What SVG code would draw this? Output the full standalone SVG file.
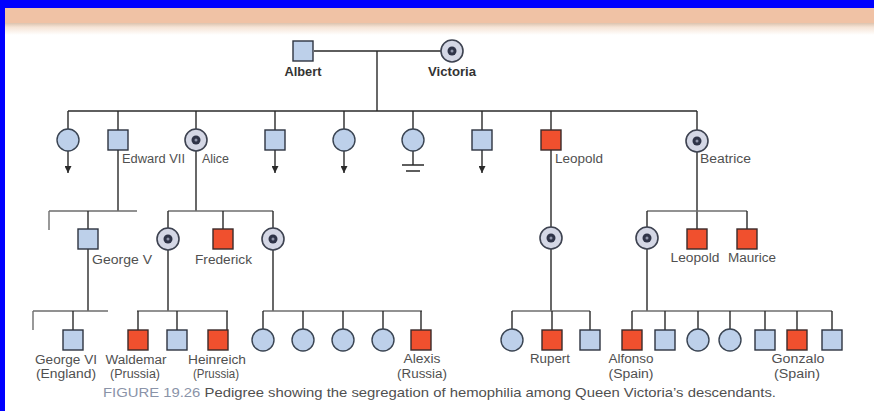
<svg xmlns="http://www.w3.org/2000/svg" xmlns:xlink="http://www.w3.org/1999/xlink" width="874" height="411" viewBox="0 0 874 411">
  <style>
    .ln { stroke:#2a2a2a; stroke-width:1.4; fill:none }
    .lg { stroke:#6e6e6e; stroke-width:1.4; fill:none }
    .sq { fill:#bdd0ea; stroke:#2e3440; stroke-width:1.4 }
    .af { fill:#f0502e; stroke:#3a2a2a; stroke-width:1.4 }
    .ci { fill:#bdd0ea; stroke:#3a4452; stroke-width:1.4 }
    .lbl { font-family:"Liberation Sans", Arial, sans-serif; font-size:12.5px; fill:#505050 }
    .mid { text-anchor:middle }
    .bold { font-weight:bold; fill:#333 }
    .cap { font-family:"Liberation Sans", Arial, sans-serif; font-size:13px; fill:#505050 }
  </style>
  <defs>
    <linearGradient id="fade" x1="0" y1="0" x2="0" y2="1">
      <stop offset="0" stop-color="#dcc3ae"/>
      <stop offset="0.35" stop-color="#f6e4d6"/>
      <stop offset="1" stop-color="#ffffff"/>
    </linearGradient>
    <marker id="arr" viewBox="0 0 8 8" refX="8" refY="4" markerWidth="7" markerHeight="7" markerUnits="userSpaceOnUse" orient="auto">
      <path d="M0,0 L8,4 L0,8 z" fill="#2a2a2a"/>
    </marker>
    <rect id="s" x="-10" y="-10" width="20" height="20"/>
    <circle id="c" r="11"/>
    <g id="car">
      <circle r="11" fill="#d4d7e5" stroke="#3d4250" stroke-width="1.6"/>
      <circle r="4.5" fill="#2f3448"/>
      <circle r="1.5" fill="#9095aa"/>
    </g>
  </defs>

  <!-- page header -->
  <rect x="0" y="0" width="874" height="411" fill="#ffffff"/>
  <rect x="0" y="8" width="874" height="16" fill="#f0c2a5"/>
  <rect x="0" y="23" width="874" height="12" fill="url(#fade)"/>
  <rect x="0" y="0" width="874" height="8" fill="#0000ff"/>
  <rect x="0" y="0" width="5" height="411" fill="#0000ff"/>

  <!-- lines of descent -->
  <g id="connectors">
    <!-- generation I -->
    <path class="ln" d="M314,51 H441 M377,51 V111"/>
    <path class="ln" d="M68,111 H697"/>
    <!-- generation II drops -->
    <path class="ln" d="M68,111 V129 M118,111 V211 M196,111 V211 M275,111 V130 M344,111 V129 M413,111 V129 M482,111 V130 M551,111 V311 M697,111 V229"/>
    <path class="ln" marker-end="url(#arr)" d="M68,151 V173"/>
    <path class="ln" marker-end="url(#arr)" d="M275,150 V173"/>
    <path class="ln" marker-end="url(#arr)" d="M344,151 V173"/>
    <path class="ln" marker-end="url(#arr)" d="M482,150 V173"/>
    <path class="ln" d="M413,151 V165 M402,165 H424 M406,171 H420"/>
    <!-- generation III -->
    <path class="lg" d="M49,211 H137 M49,211 V230"/>
    <path class="ln" d="M88,211 V311"/>
    <path class="lg" d="M168,211 H273"/>
    <path class="ln" d="M168,211 V311 M223,211 V229 M273,211 V311"/>
    <path class="lg" d="M647,211 H747"/>
    <path class="ln" d="M647,211 V311 M747,211 V229"/>
    <!-- generation IV -->
    <path class="lg" d="M33,311 H108 M33,311 V330"/>
    <path class="ln" d="M73,311 V330"/>
    <path class="lg" d="M137,311 H228"/>
    <path class="ln" d="M138,311 V330 M177,311 V330 M227,311 V330"/>
    <path class="lg" d="M263,311 H422"/>
    <path class="ln" d="M263,311 V329 M303,311 V329 M343,311 V329 M383,311 V329 M421,311 V330"/>
    <path class="lg" d="M512,311 H590"/>
    <path class="ln" d="M512,311 V329 M552,311 V330 M590,311 V330"/>
    <path class="lg" d="M632,311 H832"/>
    <path class="ln" d="M632,311 V330 M665,311 V330 M698,311 V329 M730,311 V329 M765,311 V330 M797,311 V330 M832,311 V330"/>
  </g>

  <!-- generation I -->
  <g id="albert">
    <use href="#s" class="sq" x="303" y="51"/>
    <text class="lbl mid bold" x="303" y="76" textLength="37" lengthAdjust="spacingAndGlyphs">Albert</text>
  </g>
  <g id="victoria">
    <use href="#car" x="452" y="51"/>
    <text class="lbl mid bold" x="452" y="76" textLength="48" lengthAdjust="spacingAndGlyphs">Victoria</text>
  </g>

  <!-- generation II -->
  <g id="daughter-1"><use href="#c" class="ci" x="68" y="140"/></g>
  <g id="edward-vii">
    <use href="#s" class="sq" x="118" y="140"/>
    <text class="lbl" x="122" y="163" textLength="63" lengthAdjust="spacingAndGlyphs">Edward VII</text>
  </g>
  <g id="alice">
    <use href="#car" x="196" y="140"/>
    <text class="lbl" x="202" y="163" textLength="27" lengthAdjust="spacingAndGlyphs">Alice</text>
  </g>
  <g id="son-4"><use href="#s" class="sq" x="275" y="140"/></g>
  <g id="daughter-5"><use href="#c" class="ci" x="344" y="140"/></g>
  <g id="daughter-6"><use href="#c" class="ci" x="413" y="140"/></g>
  <g id="son-7"><use href="#s" class="sq" x="482" y="140"/></g>
  <g id="leopold">
    <use href="#s" class="af" x="551" y="140"/>
    <text class="lbl" x="555" y="163" textLength="48" lengthAdjust="spacingAndGlyphs">Leopold</text>
  </g>
  <g id="beatrice">
    <use href="#car" x="697" y="141"/>
    <text class="lbl" x="700" y="163" textLength="51" lengthAdjust="spacingAndGlyphs">Beatrice</text>
  </g>

  <!-- generation III -->
  <g id="george-v">
    <use href="#s" class="sq" x="88" y="239"/>
    <text class="lbl" x="92" y="264" textLength="60" lengthAdjust="spacingAndGlyphs">George V</text>
  </g>
  <g id="alice-daughter-1"><use href="#car" x="168" y="239"/></g>
  <g id="frederick">
    <use href="#s" class="af" x="223" y="239"/>
    <text class="lbl" x="195" y="264" textLength="57" lengthAdjust="spacingAndGlyphs">Frederick</text>
  </g>
  <g id="alice-daughter-2"><use href="#car" x="273" y="239"/></g>
  <g id="leopold-daughter"><use href="#car" x="551" y="238"/></g>
  <g id="beatrice-daughter"><use href="#car" x="647" y="238"/></g>
  <g id="leopold-ii">
    <use href="#s" class="af" x="697" y="239"/>
    <text class="lbl mid" x="695" y="262" textLength="49" lengthAdjust="spacingAndGlyphs">Leopold</text>
  </g>
  <g id="maurice">
    <use href="#s" class="af" x="747" y="239"/>
    <text class="lbl mid" x="752" y="262" textLength="48" lengthAdjust="spacingAndGlyphs">Maurice</text>
  </g>

  <!-- generation IV -->
  <g id="george-vi">
    <use href="#s" class="sq" x="73" y="340"/>
    <text class="lbl mid" x="66" y="364" textLength="62" lengthAdjust="spacingAndGlyphs">George VI</text>
    <text class="lbl mid" x="66" y="378" textLength="60" lengthAdjust="spacingAndGlyphs">(England)</text>
  </g>
  <g id="waldemar">
    <use href="#s" class="af" x="138" y="340"/>
    <text class="lbl mid" x="136" y="364" textLength="61" lengthAdjust="spacingAndGlyphs">Waldemar</text>
    <text class="lbl mid" x="135" y="378" textLength="50" lengthAdjust="spacingAndGlyphs">(Prussia)</text>
  </g>
  <g id="prussia-son"><use href="#s" class="sq" x="177" y="340"/></g>
  <g id="heinreich">
    <use href="#s" class="af" x="218" y="340"/>
    <text class="lbl mid" x="217" y="364" textLength="58" lengthAdjust="spacingAndGlyphs">Heinreich</text>
    <text class="lbl mid" x="216" y="378" textLength="46" lengthAdjust="spacingAndGlyphs">(Prussia)</text>
  </g>
  <g id="russia-1"><use href="#c" class="ci" x="263" y="340"/></g>
  <g id="russia-2"><use href="#c" class="ci" x="303" y="340"/></g>
  <g id="russia-3"><use href="#c" class="ci" x="343" y="340"/></g>
  <g id="russia-4"><use href="#c" class="ci" x="383" y="340"/></g>
  <g id="alexis">
    <use href="#s" class="af" x="421" y="340"/>
    <text class="lbl mid" x="422" y="363" textLength="37" lengthAdjust="spacingAndGlyphs">Alexis</text>
    <text class="lbl mid" x="422" y="378" textLength="50" lengthAdjust="spacingAndGlyphs">(Russia)</text>
  </g>
  <g id="albany-daughter"><use href="#c" class="ci" x="512" y="340"/></g>
  <g id="rupert">
    <use href="#s" class="af" x="552" y="340"/>
    <text class="lbl mid" x="550" y="363" textLength="40" lengthAdjust="spacingAndGlyphs">Rupert</text>
  </g>
  <g id="albany-son"><use href="#s" class="sq" x="590" y="340"/></g>
  <g id="alfonso">
    <use href="#s" class="af" x="632" y="340"/>
    <text class="lbl mid" x="631" y="363" textLength="45" lengthAdjust="spacingAndGlyphs">Alfonso</text>
    <text class="lbl mid" x="631" y="378" textLength="45" lengthAdjust="spacingAndGlyphs">(Spain)</text>
  </g>
  <g id="spain-2"><use href="#s" class="sq" x="665" y="340"/></g>
  <g id="spain-3"><use href="#c" class="ci" x="698" y="340"/></g>
  <g id="spain-4"><use href="#c" class="ci" x="730" y="340"/></g>
  <g id="spain-5"><use href="#s" class="sq" x="765" y="340"/></g>
  <g id="gonzalo">
    <use href="#s" class="af" x="797" y="340"/>
    <text class="lbl mid" x="798" y="363" textLength="53" lengthAdjust="spacingAndGlyphs">Gonzalo</text>
    <text class="lbl mid" x="797" y="378" textLength="46" lengthAdjust="spacingAndGlyphs">(Spain)</text>
  </g>
  <g id="spain-7"><use href="#s" class="sq" x="832" y="340"/></g>

  <!-- caption -->
  <text class="cap" x="103" y="397" textLength="673" lengthAdjust="spacingAndGlyphs"><tspan fill="#8a93a8">FIGURE 19.26</tspan> Pedigree showing the segregation of hemophilia among Queen Victoria’s descendants.</text>
</svg>
